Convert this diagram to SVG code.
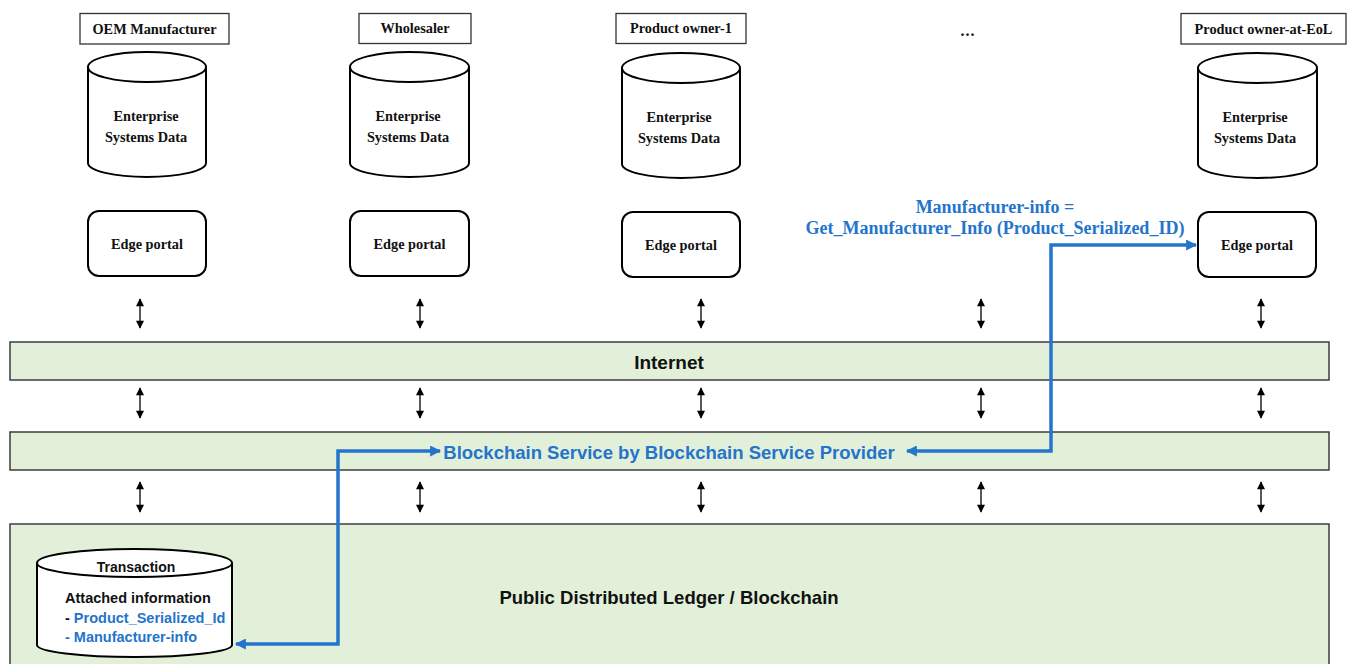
<svg xmlns="http://www.w3.org/2000/svg" width="1348" height="664" viewBox="0 0 1348 664">
<defs>
<style>
.lbl{fill:#fff;stroke:#333;stroke-width:1.3}
.cyl{fill:#fff;stroke:#000;stroke-width:2}
.edge{fill:#fff;stroke:#000;stroke-width:2}
.band{fill:#E2F0D9;stroke:#3c3c3c;stroke-width:1.5}
.serif{font-family:"Liberation Serif","Times New Roman",serif;font-weight:bold;font-size:14.3px;fill:#111;text-anchor:middle}
.call{font-family:"Liberation Serif","Times New Roman",serif;font-weight:bold;font-size:18px;fill:#2474CC;text-anchor:middle}
.sans{font-family:"Liberation Sans",Arial,sans-serif;font-weight:bold;fill:#111}
.blue{fill:#2474CC}
.dbl{stroke:#000;stroke-width:1.3;fill:none;marker-start:url(#sh);marker-end:url(#sh)}
.flow{stroke:#2474CC;stroke-width:3.5;fill:none;marker-start:url(#bh);marker-end:url(#bh)}
</style>
<marker id="sh" viewBox="0 0 10 10" refX="9" refY="5" markerWidth="9" markerHeight="8" markerUnits="userSpaceOnUse" orient="auto-start-reverse"><path d="M0 0 L10 5 L0 10 Z" fill="#000"/></marker>
<marker id="bh" viewBox="0 0 10 10" refX="9" refY="5" markerWidth="13" markerHeight="11" markerUnits="userSpaceOnUse" orient="auto-start-reverse"><path d="M0 0 L10 5 L0 10 Z" fill="#2474CC"/></marker>
</defs>

<g id="band-internet">
<rect class="band" x="10" y="342" width="1319" height="38"/>
<text class="sans" x="669" y="368.5" font-size="19" text-anchor="middle">Internet</text>
</g>
<g id="band-bsp">
<rect class="band" x="10" y="432" width="1319" height="38"/>
<text class="sans blue" x="669" y="458.5" font-size="18.5" text-anchor="middle">Blockchain Service by Blockchain Service Provider</text>
</g>
<g id="band-ledger">
<rect class="band" x="10" y="524" width="1319" height="150"/>
<text class="sans" x="669" y="603.5" font-size="18.5" text-anchor="middle">Public Distributed Ledger / Blockchain</text>
</g>

<g id="oem">
<rect class="lbl" x="80" y="13.5" width="149" height="30.5"/>
<text class="serif" x="154.5" y="34">OEM Manufacturer</text>
<path class="cyl" d="M88 67 V163 A59 14 0 0 0 206 163 V67"/>
<ellipse class="cyl" cx="147" cy="67" rx="59" ry="15"/>
<text class="serif" x="146" y="121">Enterprise</text>
<text class="serif" x="146" y="142">Systems Data</text>
</g>
<g id="oem-edge">
<rect class="edge" x="88" y="211" width="118" height="65" rx="11"/>
<text class="serif" x="147" y="249">Edge portal</text>
</g>

<g id="wholesaler">
<rect class="lbl" x="359" y="13.5" width="112" height="30"/>
<text class="serif" x="415" y="33">Wholesaler</text>
<path class="cyl" d="M350 67 V163 A59.5 14 0 0 0 469 163 V67"/>
<ellipse class="cyl" cx="409.5" cy="67" rx="59.5" ry="15"/>
<text class="serif" x="408" y="121">Enterprise</text>
<text class="serif" x="408" y="142">Systems Data</text>
</g>
<g id="wholesaler-edge">
<rect class="edge" x="350" y="211" width="119" height="65" rx="11"/>
<text class="serif" x="409.5" y="249">Edge portal</text>
</g>

<g id="owner1">
<rect class="lbl" x="616" y="13.5" width="130" height="30"/>
<text class="serif" x="681" y="33">Product owner-1</text>
<path class="cyl" d="M622 68 V164 A59 14 0 0 0 740 164 V68"/>
<ellipse class="cyl" cx="681" cy="68" rx="59" ry="15"/>
<text class="serif" x="679" y="122">Enterprise</text>
<text class="serif" x="679" y="143">Systems Data</text>
</g>
<g id="owner1-edge">
<rect class="edge" x="622" y="212" width="118" height="65" rx="11"/>
<text class="serif" x="681" y="250">Edge portal</text>
</g>

<g id="ellipsis">
<text class="serif" x="968" y="36" style="font-size:16px;letter-spacing:1px">...</text>
</g>

<g id="owner-eol">
<rect class="lbl" x="1181" y="13.5" width="165" height="30.5"/>
<text class="serif" x="1263.5" y="34">Product owner-at-EoL</text>
<path class="cyl" d="M1198 68 V164 A59.5 14 0 0 0 1317 164 V68"/>
<ellipse class="cyl" cx="1257.5" cy="68" rx="59.5" ry="15"/>
<text class="serif" x="1255" y="122">Enterprise</text>
<text class="serif" x="1255" y="143">Systems Data</text>
</g>
<g id="owner-eol-edge">
<rect class="edge" x="1198" y="212" width="118" height="65" rx="11"/>
<text class="serif" x="1257" y="250">Edge portal</text>
</g>

<g id="transaction">
<path class="cyl" d="M37 563 V645 A97.5 12 0 0 0 232 645 V563"/>
<ellipse class="cyl" cx="134.5" cy="563" rx="97.5" ry="14"/>
<text class="sans" x="136" y="572" font-size="14" text-anchor="middle">Transaction</text>
<text class="sans" x="65" y="603" font-size="14.5">Attached information</text>
<text class="sans" x="65" y="623" font-size="14.5">- <tspan class="blue">Product_Serialized_Id</tspan></text>
<text class="sans blue" x="65" y="642" font-size="14.5">- Manufacturer-info</text>
</g>

<g id="call-label">
<text class="call" x="995" y="213">Manufacturer-info =</text>
<text class="call" x="995" y="234">Get_Manufacturer_Info (Product_Serialized_ID)</text>
</g>

<g id="connectors">
<line class="dbl" x1="140" y1="299" x2="140" y2="328"/>
<line class="dbl" x1="420" y1="299" x2="420" y2="328"/>
<line class="dbl" x1="701" y1="299" x2="701" y2="328"/>
<line class="dbl" x1="981" y1="299" x2="981" y2="328"/>
<line class="dbl" x1="1261" y1="299" x2="1261" y2="328"/>
<line class="dbl" x1="140" y1="388" x2="140" y2="418"/>
<line class="dbl" x1="420" y1="388" x2="420" y2="418"/>
<line class="dbl" x1="701" y1="388" x2="701" y2="418"/>
<line class="dbl" x1="981" y1="388" x2="981" y2="418"/>
<line class="dbl" x1="1261" y1="388" x2="1261" y2="418"/>
<line class="dbl" x1="140" y1="482" x2="140" y2="512"/>
<line class="dbl" x1="420" y1="482" x2="420" y2="512"/>
<line class="dbl" x1="701" y1="482" x2="701" y2="512"/>
<line class="dbl" x1="981" y1="482" x2="981" y2="512"/>
<line class="dbl" x1="1261" y1="482" x2="1261" y2="512"/>
<path class="flow" d="M907 451 H1051 V245 H1196"/>
<path class="flow" d="M236 644 H338 V451 H440"/>
</g>
</svg>
